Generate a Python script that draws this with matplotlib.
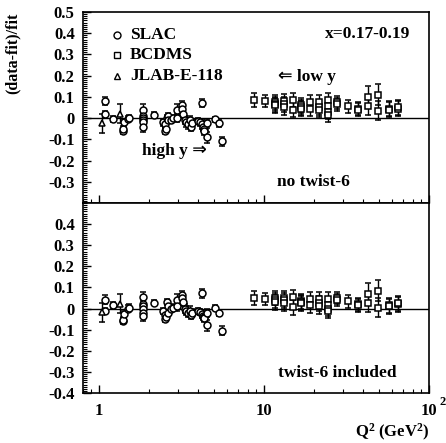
import numpy as np
import matplotlib
matplotlib.use("Agg")
import matplotlib.pyplot as plt
from matplotlib.ticker import FixedLocator, NullFormatter, MultipleLocator

plt.rcParams['font.family'] = ['Liberation Serif', 'DejaVu Sans']
plt.rcParams['font.weight'] = 'bold'
plt.rcParams['mathtext.fontset'] = 'custom'
plt.rcParams['mathtext.rm'] = 'Liberation Serif:bold'
plt.rcParams['mathtext.bf'] = 'Liberation Serif:bold'
plt.rcParams['mathtext.it'] = 'Liberation Serif:bold'
plt.rcParams['mathtext.default'] = 'bf'

# ---------------- data ----------------
slac_q2 = [1.09, 1.09, 1.22, 1.39, 1.39, 1.41, 1.50, 1.52, 1.86, 1.86, 1.86, 1.86, 1.86, 1.86,
           2.15, 2.45, 2.50, 2.50, 2.55, 2.58, 2.62, 2.62, 2.75, 2.80, 2.96, 2.98, 3.17, 3.17,
           3.25, 3.30, 3.35, 3.45, 3.55, 3.60, 3.65, 4.00, 4.10, 4.19, 4.20, 4.25, 4.30, 4.35,
           4.54, 4.54, 5.04, 5.36, 5.54]
slac_top = [0.08, 0.018, -0.005, -0.06, -0.05, -0.02, -0.005, 0.0, 0.04, 0.01, 0.0, -0.01, -0.02, -0.04,
            0.015, -0.02, -0.03, -0.06, -0.05, 0.0, 0.01, -0.01, -0.01, 0.0, 0.04, 0.0, 0.06, 0.045,
            0.02, -0.01, -0.02, -0.03, -0.01, -0.04, -0.025, -0.015, -0.02, 0.07, -0.03, -0.04, -0.05, -0.06,
            -0.09, -0.025, -0.005, -0.025, -0.11]
slac_bot = [0.042, -0.01, 0.016, -0.06, -0.053, -0.025, 0.0, 0.005, 0.053, 0.02, 0.01, 0.0, -0.02, -0.035,
            0.027, -0.01, -0.03, -0.05, -0.04, 0.03, 0.01, -0.02, 0.0, 0.005, 0.042, 0.01, 0.064, 0.05,
            0.03, 0.0, -0.01, -0.02, -0.01, -0.03, -0.02, -0.01, -0.015, 0.072, -0.025, -0.035, -0.04, -0.045,
            -0.08, -0.02, 0.005, -0.02, -0.104]
slac_err = [0.02, 0.015, 0.015, 0.015, 0.015, 0.015, 0.015, 0.015, 0.025, 0.02, 0.02, 0.02, 0.02, 0.025,
            0.012, 0.015, 0.015, 0.015, 0.015, 0.015, 0.015, 0.015, 0.015, 0.015, 0.025, 0.02, 0.02, 0.02,
            0.02, 0.02, 0.02, 0.02, 0.02, 0.02, 0.02, 0.015, 0.015, 0.02, 0.02, 0.02, 0.02, 0.02,
            0.025, 0.02, 0.012, 0.015, 0.02]

jlab_q2 = [1.04, 1.35]
jlab_top = [-0.025, 0.02]
jlab_bot = [-0.017, 0.022]
jlab_err = [0.045, 0.045]

bcdms_q2 = [8.7, 10.2, 11.6, 11.6, 11.6, 13.2, 13.2, 13.2, 15.0, 15.0, 16.8, 16.8, 16.8,
            18.9, 18.9, 21.5, 21.5, 21.5, 24.5, 24.5, 24.5, 24.5, 27.8, 27.8, 32.3, 37.1, 37.1,
            42.6, 42.6, 49.0, 49.0, 57.0, 57.0, 65.0, 65.0]
bcdms_top = [0.085, 0.08, 0.075, 0.065, 0.06, 0.08, 0.065, 0.05, 0.085, 0.04, 0.06, 0.05, 0.045,
             0.075, 0.045, 0.075, 0.05, 0.04, 0.085, 0.055, 0.03, 0.015, 0.075, 0.065, 0.055, 0.045, 0.04,
             0.10, 0.055, 0.11, 0.035, 0.045, 0.04, 0.045, 0.05]
bcdms_bot = [0.05, 0.045, 0.05, 0.04, 0.03, 0.05, 0.04, 0.025, 0.053, 0.006, 0.035, 0.03, 0.025,
             0.045, 0.015, 0.045, 0.025, 0.01, 0.045, 0.015, 0.0, -0.01, 0.05, 0.04, 0.035, 0.02, 0.015,
             0.07, 0.025, 0.085, 0.003, 0.015, 0.01, 0.02, 0.025]
bcdms_err = [0.035, 0.03, 0.035, 0.035, 0.035, 0.035, 0.035, 0.035, 0.035, 0.035, 0.035, 0.035, 0.035,
             0.035, 0.035, 0.035, 0.035, 0.035, 0.035, 0.035, 0.035, 0.035, 0.03, 0.03, 0.03, 0.03, 0.03,
             0.05, 0.04, 0.05, 0.045, 0.035, 0.035, 0.035, 0.035]

ytick_top = [-0.3, -0.2, -0.1, 0, 0.1, 0.2, 0.3, 0.4, 0.5]
ytick_bot = [-0.4, -0.3, -0.2, -0.1, 0, 0.1, 0.2, 0.3, 0.4]

# ---------------- figure ----------------
fig = plt.figure(figsize=(4.46, 4.43), dpi=100)
L, R = 83 / 446, 429 / 446
y_top, y_mid, y_bot = 1 - 12 / 443, 1 - 203 / 443, 1 - 393 / 443
ax1 = fig.add_axes([L, y_mid, R - L, y_top - y_mid])
ax2 = fig.add_axes([L, y_bot, R - L, y_mid - y_bot])

FS = 12
TFS = 12.5
mk = dict(mfc='white', mec='black', mew=1.1, ecolor='black', elinewidth=1.0,
          capsize=2.2, capthick=1.0, ls='none')


def style(ax, yticks):
    ax.set_xscale('log')
    ax.set_xlim(0.8, 100)
    ax.set_ylim(-0.4, 0.5)
    ax.axhline(0, color='black', lw=1.0, zorder=1)
    for s in ax.spines.values():
        s.set_linewidth(1.2)
    ax.yaxis.set_major_locator(FixedLocator(yticks))
    ax.yaxis.set_minor_locator(MultipleLocator(0.01))
    ax.set_yticklabels(['0' if abs(v) < 1e-9 else ('%g' % v) for v in yticks],
                       fontsize=FS, fontweight='bold')
    ax.xaxis.set_major_locator(FixedLocator([1, 10, 100]))
    ax.xaxis.set_minor_locator(FixedLocator([0.8, 0.9] + list(range(2, 10)) +
                                            list(range(20, 100, 10))))
    ax.xaxis.set_minor_formatter(NullFormatter())
    ax.tick_params(axis='y', which='major', direction='in', length=6, width=1.0, right=False, pad=6)
    ax.tick_params(axis='y', which='minor', direction='in', length=3, width=0.8, right=False)
    ax.tick_params(axis='x', which='major', direction='in', length=6, width=1.0, top=False)
    ax.tick_params(axis='x', which='minor', direction='in', length=3, width=0.8, top=False)


def draw(ax, st, sj, sb):
    ax.errorbar(slac_q2, st, yerr=slac_err, marker='o', ms=5.0, zorder=3, **mk)
    ax.errorbar(jlab_q2, sj, yerr=jlab_err, marker='^', ms=5.0, zorder=3, **mk)
    ax.errorbar(bcdms_q2, sb, yerr=bcdms_err, marker='s', ms=4.6, zorder=3, **mk)


style(ax1, ytick_top)
style(ax2, ytick_bot)
draw(ax1, slac_top, jlab_top, bcdms_top)
draw(ax2, slac_bot, jlab_bot, bcdms_bot)

# x tick labels
ax1.set_xticklabels(['1', '10', ''], fontsize=FS, fontweight='bold')
ax1.tick_params(axis='x', which='major', pad=4)
for lab in ax1.get_xticklabels():
    lab.set_zorder(10)
ax2.set_xticklabels(['1', '10', '10'], fontsize=FS, fontweight='bold')
ax2.tick_params(axis='x', which='major', pad=7)
fig.text(443 / 446, 1 - 402 / 443, '2', fontsize=9, fontweight='bold', ha='center', va='center')

# axis labels
fig.text(12.5 / 446, 1 - 53 / 443, '(data-fit)/fit', rotation=90, fontsize=11.5,
         fontweight='bold', ha='center', va='center')
fig.text(430 / 446, 1 - 437 / 443, r'Q$^{2}$ (GeV$^{2}$)', fontsize=FS,
         fontweight='bold', ha='right', va='baseline')

# legend (manual)
def fx(px):
    return (px - 83) / (429 - 83)

def fy1(py):
    return (203 - py) / (203 - 12)

for py, m, lab in [(35, 'o', 'SLAC'), (55, 's', 'BCDMS'), (76, '^', 'JLAB-E-118')]:
    ax1.plot([fx(117)], [fy1(py)], marker=m, ms=5 if m != 's' else 4.6, mfc='white', mec='black',
             mew=1.0, transform=ax1.transAxes, ls='none')
    ax1.text(fx(130), fy1(py), lab, transform=ax1.transAxes, fontsize=TFS,
             fontweight='bold', ha='left', va='center')

ax1.text(fx(410), fy1(34), 'x=0.17-0.19', transform=ax1.transAxes, fontsize=TFS,
         fontweight='bold', ha='right', va='center')
ax1.text(fx(278), fy1(77), '\u21d0 low y', transform=ax1.transAxes, fontsize=TFS,
         fontweight='bold', ha='left', va='center')
ax1.text(fx(142), fy1(151), 'high y \u21d2', transform=ax1.transAxes, fontsize=TFS,
         fontweight='bold', ha='left', va='center')
ax1.text(fx(277), fy1(182), 'no twist-6', transform=ax1.transAxes, fontsize=TFS,
         fontweight='bold', ha='left', va='center')

def fy2(py):
    return (393 - py) / (393 - 203)

ax2.text(fx(278), fy2(373), 'twist-6 included', transform=ax2.transAxes, fontsize=TFS,
         fontweight='bold', ha='left', va='center')

fig.savefig('out.png', dpi=100)
